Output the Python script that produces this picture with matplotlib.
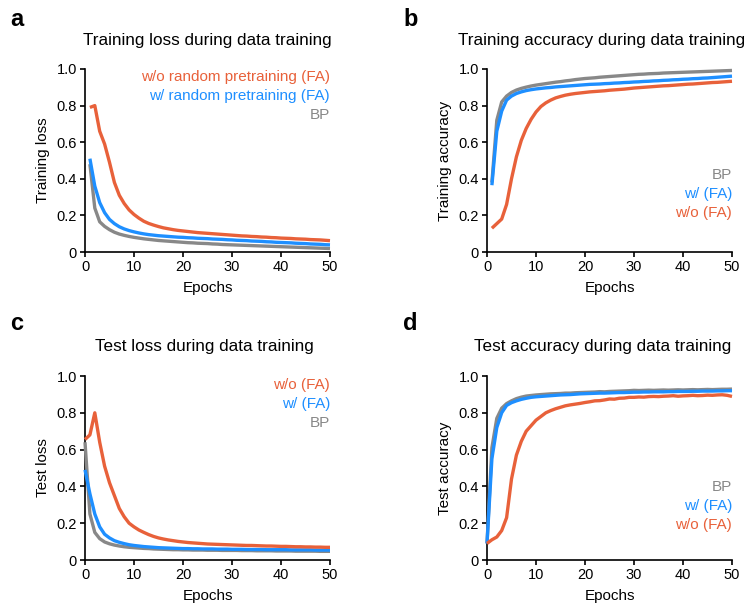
import matplotlib
matplotlib.use("Agg")
import matplotlib.pyplot as plt

plt.rcParams['font.family'] = ['Liberation Sans', 'DejaVu Sans']

# ---------------- data ----------------
epochs_train = list(range(1, 51))
epochs_test = list(range(0, 51))

# Panel a: training loss
a_wo = [0.79, 0.80, 0.66, 0.59, 0.49, 0.38, 0.31, 0.265, 0.23, 0.205,
        0.185, 0.168, 0.156, 0.147, 0.139, 0.132, 0.127, 0.122, 0.118, 0.115,
        0.112, 0.109, 0.106, 0.104, 0.102, 0.100, 0.098, 0.096, 0.094, 0.092,
        0.090, 0.088, 0.087, 0.085, 0.084, 0.082, 0.081, 0.079, 0.078, 0.076,
        0.075, 0.074, 0.072, 0.071, 0.070, 0.068, 0.067, 0.066, 0.064, 0.062]
a_w = [0.51, 0.36, 0.27, 0.215, 0.178, 0.155, 0.138, 0.126, 0.117, 0.110,
       0.104, 0.099, 0.095, 0.092, 0.089, 0.087, 0.085, 0.083, 0.081, 0.080,
       0.078, 0.077, 0.075, 0.074, 0.073, 0.071, 0.070, 0.069, 0.067, 0.066,
       0.064, 0.063, 0.062, 0.060, 0.059, 0.058, 0.056, 0.055, 0.053, 0.052,
       0.051, 0.050, 0.048, 0.047, 0.046, 0.044, 0.043, 0.042, 0.040, 0.039]
a_bp = [0.48, 0.24, 0.165, 0.140, 0.122, 0.108, 0.098, 0.091, 0.085, 0.080,
        0.076, 0.072, 0.069, 0.066, 0.063, 0.061, 0.059, 0.057, 0.055, 0.053,
        0.051, 0.050, 0.048, 0.047, 0.046, 0.044, 0.043, 0.041, 0.040, 0.039,
        0.038, 0.037, 0.036, 0.035, 0.034, 0.033, 0.032, 0.031, 0.030, 0.029,
        0.028, 0.027, 0.026, 0.025, 0.024, 0.023, 0.022, 0.021, 0.020, 0.019]

# Panel b: training accuracy
b_bp = [0.38, 0.72, 0.82, 0.852, 0.872, 0.885, 0.894, 0.901, 0.907, 0.912,
        0.916, 0.920, 0.924, 0.928, 0.931, 0.935, 0.938, 0.942, 0.945, 0.948,
        0.950, 0.952, 0.955, 0.957, 0.959, 0.961, 0.963, 0.965, 0.967, 0.969,
        0.971, 0.972, 0.974, 0.975, 0.976, 0.978, 0.979, 0.980, 0.981, 0.982,
        0.983, 0.984, 0.985, 0.986, 0.987, 0.988, 0.989, 0.990, 0.991, 0.992]
b_w = [0.365, 0.66, 0.77, 0.83, 0.852, 0.866, 0.875, 0.882, 0.887, 0.891,
       0.894, 0.897, 0.899, 0.902, 0.904, 0.906, 0.908, 0.910, 0.912, 0.914,
       0.916, 0.917, 0.918, 0.920, 0.921, 0.923, 0.924, 0.926, 0.927, 0.929,
       0.930, 0.932, 0.933, 0.935, 0.936, 0.938, 0.939, 0.941, 0.942, 0.944,
       0.945, 0.947, 0.948, 0.950, 0.951, 0.953, 0.955, 0.957, 0.959, 0.961]
b_wo = [0.13, 0.155, 0.18, 0.26, 0.40, 0.52, 0.61, 0.675, 0.725, 0.765,
        0.795, 0.815, 0.830, 0.842, 0.850, 0.857, 0.862, 0.866, 0.869, 0.872,
        0.875, 0.877, 0.879, 0.881, 0.884, 0.886, 0.888, 0.890, 0.893, 0.896,
        0.898, 0.900, 0.902, 0.904, 0.906, 0.908, 0.909, 0.911, 0.913, 0.915,
        0.917, 0.918, 0.920, 0.922, 0.924, 0.926, 0.927, 0.929, 0.931, 0.933]

# Panel c: test loss
c_wo = [0.655, 0.68, 0.80, 0.64, 0.51, 0.42, 0.35, 0.28, 0.235, 0.20, 0.18,
        0.163, 0.15, 0.138, 0.128, 0.120, 0.114, 0.109, 0.105, 0.101, 0.098,
        0.095, 0.093, 0.091, 0.089, 0.087, 0.086, 0.085, 0.084, 0.083, 0.082,
        0.081, 0.080, 0.079, 0.079, 0.078, 0.077, 0.076, 0.076, 0.075, 0.074,
        0.074, 0.073, 0.072, 0.072, 0.071, 0.071, 0.070, 0.070, 0.069, 0.069]
c_w = [0.49, 0.36, 0.25, 0.18, 0.14, 0.12, 0.105, 0.096, 0.089, 0.083, 0.079,
       0.076, 0.073, 0.071, 0.069, 0.067, 0.066, 0.065, 0.064, 0.063, 0.062,
       0.062, 0.061, 0.061, 0.060, 0.060, 0.060, 0.059, 0.059, 0.059, 0.058,
       0.058, 0.058, 0.057, 0.057, 0.057, 0.057, 0.056, 0.056, 0.056, 0.056,
       0.056, 0.055, 0.055, 0.055, 0.055, 0.055, 0.054, 0.054, 0.054, 0.054]
c_bp = [0.64, 0.25, 0.15, 0.116, 0.098, 0.088, 0.081, 0.076, 0.072, 0.069, 0.067,
        0.065, 0.063, 0.062, 0.060, 0.059, 0.058, 0.057, 0.056, 0.056, 0.055,
        0.055, 0.054, 0.054, 0.054, 0.053, 0.053, 0.053, 0.052, 0.052, 0.052,
        0.052, 0.051, 0.051, 0.051, 0.050, 0.050, 0.050, 0.050, 0.049, 0.049,
        0.049, 0.049, 0.048, 0.048, 0.048, 0.048, 0.048, 0.047, 0.047, 0.047]

# Panel d: test accuracy
d_bp = [0.09, 0.61, 0.77, 0.825, 0.85, 0.865, 0.877, 0.885, 0.891, 0.894, 0.897,
        0.899, 0.901, 0.903, 0.904, 0.905, 0.907, 0.907, 0.909, 0.910, 0.911,
        0.912, 0.913, 0.915, 0.914, 0.916, 0.917, 0.918, 0.919, 0.920, 0.922,
        0.921, 0.922, 0.923, 0.922, 0.923, 0.924, 0.923, 0.924, 0.925, 0.924,
        0.925, 0.926, 0.925, 0.926, 0.927, 0.926, 0.927, 0.928, 0.928, 0.929]
d_w = [0.09, 0.55, 0.72, 0.80, 0.84, 0.855, 0.865, 0.873, 0.879, 0.884, 0.887,
       0.889, 0.891, 0.893, 0.895, 0.897, 0.898, 0.899, 0.901, 0.903, 0.904,
       0.905, 0.906, 0.907, 0.907, 0.908, 0.909, 0.910, 0.910, 0.911, 0.912,
       0.912, 0.913, 0.913, 0.914, 0.914, 0.914, 0.915, 0.915, 0.916, 0.916,
       0.916, 0.917, 0.917, 0.918, 0.918, 0.918, 0.919, 0.919, 0.920, 0.920]
d_wo = [0.09, 0.11, 0.125, 0.16, 0.23, 0.44, 0.57, 0.645, 0.70, 0.73, 0.76,
        0.78, 0.80, 0.812, 0.822, 0.830, 0.838, 0.843, 0.847, 0.851, 0.856,
        0.860, 0.865, 0.866, 0.870, 0.875, 0.874, 0.879, 0.880, 0.884, 0.884,
        0.886, 0.885, 0.888, 0.889, 0.888, 0.890, 0.891, 0.893, 0.890, 0.892,
        0.893, 0.895, 0.893, 0.894, 0.896, 0.895, 0.897, 0.898, 0.895, 0.889]

titles = ["Training loss during data training",
          "Training accuracy during data training",
          "Test loss during data training",
          "Test accuracy during data training"]
ylabels = ["Training loss", "Training accuracy", "Test loss", "Test accuracy"]
panel_letters = ["a", "b", "c", "d"]
xticks = [0, 10, 20, 30, 40, 50]
yticks = [0, 0.2, 0.4, 0.6, 0.8, 1.0]
ytick_labels = ["0", "0.2", "0.4", "0.6", "0.8", "1.0"]

ORANGE = "#E8613A"
BLUE = "#1E8FFF"
GRAY = "#888888"

# ---------------- figure ----------------
W, H = 747, 607
fig = plt.figure(figsize=(W / 100, H / 100), dpi=100)

def px_axes(l, t, r, b):
    return fig.add_axes([l / W, 1 - b / H, (r - l) / W, (b - t) / H])

axes = [px_axes(85, 69, 330, 252), px_axes(487, 69, 732, 252),
        px_axes(85, 376, 330, 560), px_axes(487, 376, 732, 560)]

series = [
    (epochs_train, [(a_wo, ORANGE), (a_w, BLUE), (a_bp, GRAY)]),
    (epochs_train, [(b_wo, ORANGE), (b_w, BLUE), (b_bp, GRAY)]),
    (epochs_test, [(c_wo, ORANGE), (c_w, BLUE), (c_bp, GRAY)]),
    (epochs_test, [(d_wo, ORANGE), (d_w, BLUE), (d_bp, GRAY)]),
]

legends = [
    [("w/o random pretraining (FA)", ORANGE), ("w/ random pretraining (FA)", BLUE), ("BP", GRAY)],
    [("BP", GRAY), ("w/ (FA)", BLUE), ("w/o (FA)", ORANGE)],
    [("w/o (FA)", ORANGE), ("w/ (FA)", BLUE), ("BP", GRAY)],
    [("BP", GRAY), ("w/ (FA)", BLUE), ("w/o (FA)", ORANGE)],
]
legend_y0 = [0.956, 0.421, 0.951, 0.397]

title_x = [207, 602, 204, 603]
title_y = [40, 40, 347, 347]
letter_pos = [(10, 20), (403, 20), (10, 323), (403, 323)]

for i, ax in enumerate(axes):
    xs, lines = series[i]
    for vals, col in [lines[2], lines[1], lines[0]]:
        ax.plot(xs, vals, color=col, lw=2.4, solid_capstyle='butt', clip_on=False, zorder=3)
    ax.set_xlim(0, 50)
    ax.set_ylim(0, 1.0)
    ax.set_xticks(xticks)
    ax.set_yticks(yticks)
    ax.set_yticklabels(ytick_labels)
    for s in ("top", "right"):
        ax.spines[s].set_visible(False)
    for s in ("left", "bottom"):
        ax.spines[s].set_linewidth(1.2)
    ax.tick_params(direction='out', length=3.8, width=1.2, labelsize=10.5, pad=2)
    ax.set_xlabel("Epochs", fontsize=11, labelpad=5)
    ax.set_ylabel(ylabels[i], fontsize=11, labelpad=5)
    for j, (txt, col) in enumerate(legends[i]):
        y = legend_y0[i] - j * 0.104
        ax.text(1.0, y, txt, color=col, fontsize=11, ha='right', va='center',
                transform=ax.transAxes)
    fig.text(title_x[i] / W, 1 - title_y[i] / H, titles[i], fontsize=12.3,
             ha='center', va='center')
    lx, ly = letter_pos[i]
    fig.text(lx / W, 1 - ly / H, panel_letters[i], fontsize=17, fontweight='bold',
             ha='left', va='center')

fig.savefig("out.png", dpi=100)
